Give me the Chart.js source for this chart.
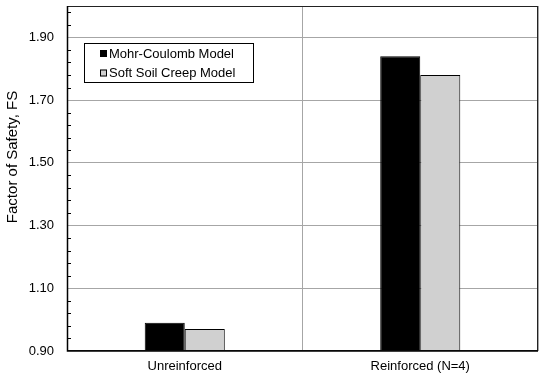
<!DOCTYPE html>
<html lang="en">
<head>
  <meta charset="UTF-8">
  <title>Factor of Safety</title>
  <style>
    html, body { margin: 0; padding: 0; background: #ffffff; }
    #chart { display: block; }
  </style>
</head>
<body>
  <canvas id="chart" width="550" height="379"></canvas>

  <script src="https://cdn.jsdelivr.net/npm/chart.js@4/dist/chart.umd.min.js"></script>
  <script>
    const categories = ['Unreinforced', 'Reinforced (N=4)'];
    const mohrCoulomb = [0.99, 1.84];
    const softSoilCreep = [0.97, 1.78];
    const seriesNames = ['Mohr-Coulomb Model', 'Soft Soil Creep Model'];
    const yTitle = 'Factor of Safety, FS';

    const FONT = "'Liberation Sans', Arial, sans-serif";
    const Y_MIN = 0.9, Y_MAX = 2.0, MINOR = 0.04, MAJOR = 0.2;

    const isMajor = v => {
      const k = (v - Y_MIN) / MAJOR;
      return Math.abs(k - Math.round(k)) < 1e-6;
    };

    // minor ticks inside the left axis, plot frame, legend box, axis title
    const decorations = {
      id: 'decorations',
      afterDatasetsDraw(chart) {
        const { ctx, chartArea: a } = chart;
        const y = chart.scales.y;
        ctx.save();
        ctx.strokeStyle = '#000';
        ctx.lineWidth = 1;
        y.ticks.forEach(t => {
          if (isMajor(t.value)) return;
          const py = Math.round(y.getPixelForValue(t.value)) + 0.5;
          ctx.beginPath();
          ctx.moveTo(a.left, py);
          ctx.lineTo(a.left + 4, py);
          ctx.stroke();
        });

        // frame
        ctx.strokeStyle = '#222';
        ctx.strokeRect(a.left + 0.5, a.top + 0.5, a.right - a.left - 1, a.bottom - a.top - 1);
        ctx.strokeStyle = '#000';
        ctx.lineWidth = 1.5;
        ctx.beginPath();
        ctx.moveTo(a.left + 0.5, a.top);
        ctx.lineTo(a.left + 0.5, a.bottom);
        ctx.lineTo(a.right, a.bottom);
        ctx.stroke();

        // legend
        const lx = 84.5, ly = 43.5, lw = 169, lh = 39;
        ctx.lineWidth = 1;
        ctx.fillStyle = '#fff';
        ctx.fillRect(lx, ly, lw, lh);
        ctx.strokeStyle = '#000';
        ctx.strokeRect(lx, ly, lw, lh);
        ctx.font = '13px ' + FONT;
        ctx.textBaseline = 'middle';
        chart.data.datasets.forEach((ds, i) => {
          const cy = 53.5 + i * 19.5;
          ctx.fillStyle = ds.backgroundColor;
          ctx.fillRect(100, cy - 3.5, 7, 7);
          ctx.strokeStyle = '#000';
          ctx.strokeRect(100.5, cy - 3, 6, 6);
          ctx.fillStyle = '#000';
          ctx.fillText(ds.label, 109, cy + 0.5);
        });

        // y axis title (sits above the plot centre in the original)
        ctx.translate(16.5, 157);
        ctx.rotate(-Math.PI / 2);
        ctx.font = '15px ' + FONT;
        ctx.textAlign = 'center';
        ctx.textBaseline = 'alphabetic';
        ctx.fillText(yTitle, 0, 0);
        ctx.restore();
      }
    };

    const ctx = document.querySelector('#chart').getContext('2d');
    const chart = new Chart(ctx, {
      type: 'bar',
      data: {
        labels: categories,
        datasets: [{
          label: seriesNames[0],
          data: mohrCoulomb,
          backgroundColor: '#000000',
          borderColor: '#000000',
          borderWidth: 1
        }, {
          label: seriesNames[1],
          data: softSoilCreep,
          backgroundColor: '#d0d0d0',
          borderColor: '#000000',
          borderWidth: 1
        }]
      },
      options: {
        responsive: false,
        animation: false,
        events: [],
        layout: { padding: { top: 6, right: 12, left: 0, bottom: 0 } },
        plugins: {
          legend: { display: false },
          tooltip: { enabled: false }
        },
        datasets: {
          bar: { categoryPercentage: 0.34, barPercentage: 1.0 }
        },
        scales: {
          x: {
            offset: true,
            grid: { offset: true, color: '#a6a6a6', drawTicks: false },
            border: { display: false },
            ticks: { color: '#000', padding: 8, font: { family: FONT, size: 13 } },
            afterFit(s) { s.height = 28; s.paddingLeft = 0; s.paddingRight = 0; }
          },
          y: {
            min: Y_MIN,
            max: Y_MAX,
            afterBuildTicks(s) {
              const t = [];
              for (let v = Y_MIN; v < Y_MAX - 1e-9; v += MINOR) t.push({ value: Math.round(v * 100) / 100 });
              s.ticks = t;
            },
            grid: {
              drawTicks: false,
              color: c => (c.tick && isMajor(c.tick.value) && c.tick.value > Y_MIN + 0.01 ? '#a6a6a6' : 'rgba(0,0,0,0)')
            },
            border: { display: false },
            ticks: {
              autoSkip: false,
              padding: 13,
              color: '#000',
              font: { family: FONT, size: 13 },
              callback: v => (isMajor(v) ? v.toFixed(2) : '')
            },
            afterFit(s) { s.width = 67; s.paddingTop = 0; s.paddingBottom = 0; }
          }
        }
      },
      plugins: [decorations]
    });
  </script>
</body>
</html>
